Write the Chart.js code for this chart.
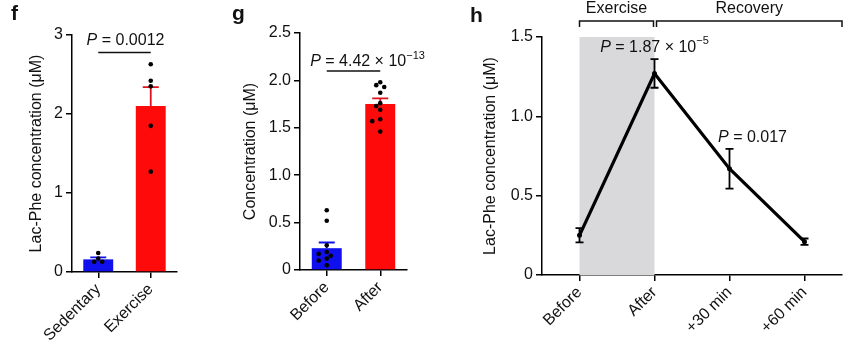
<!DOCTYPE html>
<html>
<head>
<meta charset="utf-8">
<script src="https://cdn.jsdelivr.net/npm/chart.js@4"></script>
<style>
  body { margin: 0; background: #fff; }
  .panel { position: absolute; top: 0; }
  .tag { position: absolute; font: bold 21px 'Liberation Sans', Arial, sans-serif; color: #111; }
</style>
</head>
<body>
<div class="panel" style="left:0"><canvas id="chartF" width="230" height="351"></canvas></div>
<div class="panel" style="left:230px"><canvas id="chartG" width="235" height="351"></canvas></div>
<div class="panel" style="left:465px"><canvas id="chartH" width="400" height="351"></canvas></div>
<div class="tag" style="left:11px;top:1px">f</div>
<div class="tag" style="left:232px;top:1px">g</div>
<div class="tag" style="left:470px;top:3px">h</div>
<script>
// panel f
const fLabels = ['Sedentary', 'Exercise'];
const fMeans = [0.16, 2.10];
const fSem = [0.025, 0.24];
const fDots = [[0.24, 0.17, 0.13, 0.13], [2.63, 2.42, 2.35, 1.85, 1.27]];

// panel g
const gLabels = ['Before', 'After'];
const gMeans = [0.23, 1.75];
const gSem = [0.06, 0.06];
const gDots = [
  [0.63, 0.52, 0.26, 0.19, 0.17, 0.15, 0.12, 0.10, 0.05],
  [1.98, 1.95, 1.93, 1.87, 1.76, 1.73, 1.69, 1.59, 1.57, 1.46]
];

// panel h
const hLabels = ['Before', 'After', '+30 min', '+60 min'];
const hMeans = [0.25, 1.27, 0.67, 0.21];
const hSem = [0.045, 0.09, 0.125, 0.02];
const hPhases = ['Exercise', 'Recovery'];

const FONT = "'Liberation Sans', Arial, sans-serif";
Chart.defaults.font.family = FONT;
Chart.defaults.font.size = 16;
Chart.defaults.color = '#111';

const BLUE = '#1010ee';
const RED = '#ff0a0a';

function fixSize(w, h) {
  return function (scale) {
    if (w != null) scale.width = w;
    if (h != null) scale.height = h;
    scale.paddingLeft = 0; scale.paddingRight = 0;
    scale.paddingTop = 0; scale.paddingBottom = 0;
  };
}

function yAxis(max, step, width, titleText, titlePad) {
  return {
    min: 0, max: max,
    ticks: { stepSize: step, padding: 3, color: '#111',
      callback: v => v === 0 ? '0' : (step < 1 ? v.toFixed(1) : String(v)) },
    grid: { drawOnChartArea: false, tickLength: 6, color: '#000', lineWidth: 1.5 },
    border: { color: '#000', width: 1.5 },
    title: { display: true, text: titleText, color: '#111', font: { size: 16 }, padding: { top: titlePad, bottom: 0 } },
    afterFit: fixSize(width, null)
  };
}

function xAxis(height) {
  return {
    offset: true,
    ticks: { minRotation: 45, maxRotation: 45, autoSkip: false, padding: 2, color: '#111', font: { size: 16 } },
    grid: { offset: false, drawOnChartArea: false, tickLength: 6, color: '#000', lineWidth: 1.5 },
    border: { color: '#000', width: 1.5 },
    afterFit: fixSize(null, height)
  };
}

function richText(ctx, parts, cx, cy) {
  const fontOf = s => (s === 'i' ? 'italic ' : '') + (s === 's' ? 11 : 16) + 'px ' + FONT;
  let total = 0;
  parts.forEach(p => { ctx.font = fontOf(p[1]); total += ctx.measureText(p[0]).width; });
  let x = cx - total / 2;
  ctx.textAlign = 'left';
  ctx.textBaseline = 'middle';
  ctx.fillStyle = '#111';
  parts.forEach(p => {
    ctx.font = fontOf(p[1]);
    ctx.fillText(p[0], x, p[1] === 's' ? cy - 6 : cy);
    x += ctx.measureText(p[0]).width;
  });
}

function drawErrors(chart, means, sems, colors, both, cap) {
  const ctx = chart.ctx, xs = chart.scales.x, ys = chart.scales.y;
  ctx.save();
  ctx.lineWidth = 1.8;
  means.forEach((m, i) => {
    const x = xs.getPixelForValue(i);
    const top = ys.getPixelForValue(m + sems[i]);
    const bot = ys.getPixelForValue(both ? m - sems[i] : m);
    ctx.strokeStyle = colors[i];
    ctx.beginPath();
    ctx.moveTo(x, bot); ctx.lineTo(x, top);
    ctx.moveTo(x - cap, top); ctx.lineTo(x + cap, top);
    if (both) { ctx.moveTo(x - cap, bot); ctx.lineTo(x + cap, bot); }
    ctx.stroke();
  });
  ctx.restore();
}

// dots placed at the category centre, nudged sideways only when they would overlap
function drawDots(chart, groups) {
  const ctx = chart.ctx, xs = chart.scales.x, ys = chart.scales.y;
  const shifts = [0, -4, 4, -8, 8];
  ctx.save();
  ctx.fillStyle = '#000';
  groups.forEach((vals, i) => {
    const cx = xs.getPixelForValue(i);
    const placed = [];
    vals.forEach(v => {
      const y = ys.getPixelForValue(v);
      let dx = 0;
      for (const s of shifts) {
        if (placed.every(p => Math.hypot(p[0] - s, p[1] - y) >= 4.5)) { dx = s; break; }
      }
      placed.push([dx, y]);
      ctx.beginPath();
      ctx.arc(cx + dx, y, 2.3, 0, Math.PI * 2);
      ctx.fill();
    });
  });
  ctx.restore();
}

function drawPLine(chart, yVal) {
  const ctx = chart.ctx, xs = chart.scales.x, ys = chart.scales.y;
  const y = ys.getPixelForValue(yVal);
  ctx.save();
  ctx.strokeStyle = '#111';
  ctx.lineWidth = 1.5;
  ctx.beginPath();
  ctx.moveTo(xs.getPixelForValue(0), y);
  ctx.lineTo(xs.getPixelForValue(1), y);
  ctx.stroke();
  ctx.restore();
  return y;
}

const fExtras = {
  id: 'fExtras',
  afterDatasetsDraw(chart) {
    drawErrors(chart, fMeans, fSem, [BLUE, '#e0101c'], false, 8);
    drawDots(chart, fDots);
    const y = drawPLine(chart, 2.78);
    const xs = chart.scales.x;
    const mid = (xs.getPixelForValue(0) + xs.getPixelForValue(1)) / 2;
    richText(chart.ctx, [['P', 'i'], [' = 0.0012', '']], mid + 1, y - 12);
  }
};

const gExtras = {
  id: 'gExtras',
  afterDatasetsDraw(chart) {
    drawErrors(chart, gMeans, gSem, [BLUE, '#e0101c'], false, 8);
    drawDots(chart, gDots);
    const y = drawPLine(chart, 2.10);
    const xs = chart.scales.x;
    const mid = (xs.getPixelForValue(0) + xs.getPixelForValue(1)) / 2;
    richText(chart.ctx, [['P', 'i'], [' = 4.42 × 10', ''], ['−13', 's']], mid + 14, y - 9);
  }
};

const hExtras = {
  id: 'hExtras',
  beforeDatasetsDraw(chart) {
    const ctx = chart.ctx, xs = chart.scales.x, ys = chart.scales.y, a = chart.chartArea;
    ctx.save();
    ctx.fillStyle = '#d9d9dc';
    const x0 = xs.getPixelForValue(0), x1 = xs.getPixelForValue(1);
    ctx.fillRect(x0, a.top, x1 - x0, ys.getPixelForValue(0) - a.top);
    ctx.restore();
    drawErrors(chart, hMeans, hSem, ['#000', '#000', '#000', '#000'], true, 4);
  },
  afterDatasetsDraw(chart) {
    const ctx = chart.ctx, xs = chart.scales.x, ys = chart.scales.y, a = chart.chartArea;
    const xB = xs.getPixelForValue(0), xA = xs.getPixelForValue(1), x30 = xs.getPixelForValue(2);
    richText(ctx, [['P', 'i'], [' = 1.87 × 10', ''], ['−5', 's']], xA, ys.getPixelForValue(hMeans[1] + hSem[1]) - 12);
    richText(ctx, [['P', 'i'], [' = 0.017', '']], x30 + 23, ys.getPixelForValue(hMeans[2] + hSem[2]) - 11);
    // phase brackets above the plot
    const yl = a.top - 16, yt = a.top - 10;
    const spans = [[xB, xA - 1], [xA + 2, a.right]];
    ctx.save();
    ctx.strokeStyle = '#111';
    ctx.lineWidth = 1.5;
    spans.forEach(s => {
      ctx.beginPath();
      ctx.moveTo(s[0], yt); ctx.lineTo(s[0], yl); ctx.lineTo(s[1], yl); ctx.lineTo(s[1], yt);
      ctx.stroke();
    });
    ctx.restore();
    hPhases.forEach((t, i) => richText(ctx, [[t, '']], (spans[i][0] + spans[i][1]) / 2, a.top - 28));
  }
};

const common = {
  responsive: false,
  animation: false,
  plugins: { legend: { display: false }, tooltip: { enabled: false } }
};

new Chart(document.getElementById('chartF'), {
  type: 'bar',
  data: {
    labels: fLabels,
    datasets: [{ data: fMeans, backgroundColor: [BLUE, RED], barPercentage: 0.57, categoryPercentage: 1 }]
  },
  options: Object.assign({}, common, {
    layout: { padding: { left: 0, right: 53, top: 35, bottom: 0 } },
    scales: { x: xAxis(79), y: yAxis(3, 1, 72, 'Lac-Phe concentration (μM)', 27) }
  }),
  plugins: [fExtras]
});

new Chart(document.getElementById('chartG'), {
  type: 'bar',
  data: {
    labels: gLabels,
    datasets: [{ data: gMeans, backgroundColor: [BLUE, RED], barPercentage: 0.56, categoryPercentage: 1 }]
  },
  options: Object.assign({}, common, {
    layout: { padding: { left: 0, right: 58, top: 33, bottom: 0 } },
    scales: { x: xAxis(81), y: yAxis(2.5, 0.5, 70, 'Concentration (μM)', 11) }
  }),
  plugins: [gExtras]
});

new Chart(document.getElementById('chartH'), {
  type: 'line',
  data: {
    labels: hLabels,
    datasets: [{
      data: hMeans, borderColor: '#000', borderWidth: 3.2, tension: 0,
      pointRadius: 2.5, pointBorderWidth: 0, pointBackgroundColor: '#000'
    }]
  },
  options: Object.assign({}, common, {
    layout: { padding: { left: 0, right: 23, top: 37, bottom: 0 } },
    scales: { x: xAxis(76), y: yAxis(1.5, 0.5, 77, 'Lac-Phe concentration (μM)', 16) }
  }),
  plugins: [hExtras]
});
</script>
</body>
</html>
